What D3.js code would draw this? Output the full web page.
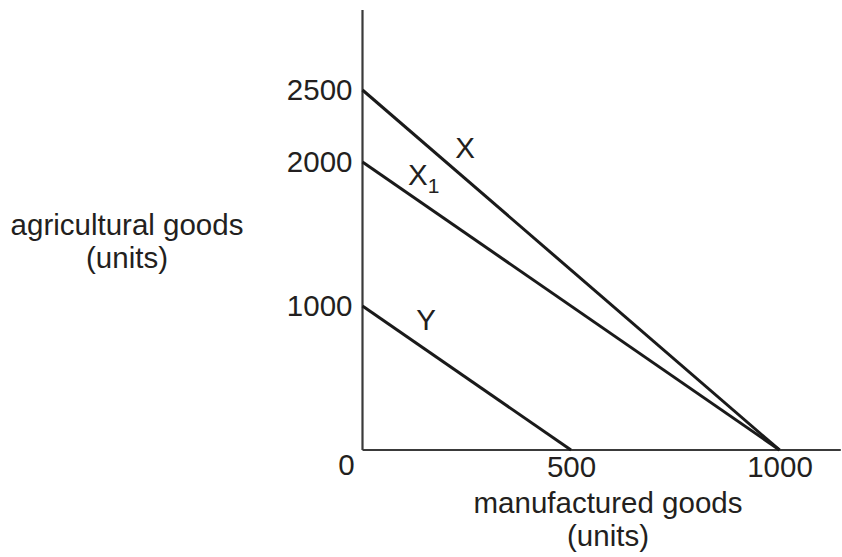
<!DOCTYPE html>
<html><head><meta charset="utf-8">
<script src="https://cdn.jsdelivr.net/npm/d3@7"></script>
<style>body{margin:0;background:#fff}text{font-family:"Liberation Sans",Arial,sans-serif;fill:#231f20}</style>
</head><body>
<svg id="c" width="842" height="557"></svg>
<script>
// data
const lineNames = ["X", "X1", "Y"];
const yIntercepts = [2500, 2000, 1000];   // agricultural goods
const xIntercepts = [1000, 1000, 500];    // manufactured goods
const yTicks = [1000, 2000, 2500];
const xTicks = [500, 1000];
const xAxisMax = 1147, yAxisMax = 3055;

const svg = d3.select("#c");
const x = d3.scaleLinear().domain([0, 1000]).range([362.5, 779.5]);
const y = d3.scaleLinear().domain([0, 2500]).range([450, 90]);
const fs = 29.5;

// axes
const ax = d3.axisBottom(x).tickValues(xTicks).tickSize(0).tickSizeOuter(0).tickPadding(6).tickFormat(d3.format("d"));
const ay = d3.axisLeft(y).tickValues(yTicks).tickSize(0).tickSizeOuter(0).tickPadding(10).tickFormat(d3.format("d"));
const gx = svg.append("g").attr("transform", `translate(0,${y(0)})`).call(ax);
const gy = svg.append("g").attr("transform", `translate(${x(0)},0)`).call(ay);
gx.select(".domain").attr("d", `M${x(0)},0H${x(xAxisMax)}`);
gy.select(".domain").attr("d", `M0,${y(0)}V${y(yAxisMax)}`);
[gx, gy].forEach(g => {
  g.select(".domain").attr("stroke", "#3a3a3a").attr("stroke-width", 2.2);
  g.selectAll("text").attr("font-size", fs).attr("font-family", "Liberation Sans, Arial, sans-serif").attr("fill", "#231f20");
});
// origin label
svg.append("text").attr("x", x(0) - 16).attr("y", y(0) + 25).attr("text-anchor", "middle").attr("font-size", fs).text("0");

// lines
const g = svg.append("g");
lineNames.forEach((n, i) => {
  g.append("line")
    .attr("x1", x(0)).attr("y1", y(yIntercepts[i]))
    .attr("x2", x(xIntercepts[i])).attr("y2", y(0))
    .attr("stroke", "#1a1a1a").attr("stroke-width", 3);
});

// line labels
svg.append("text").attr("x", 465).attr("y", 158).attr("text-anchor", "middle").attr("font-size", fs).text("X");
const t1 = svg.append("text").attr("x", 408).attr("y", 185).attr("font-size", fs);
t1.append("tspan").text("X");
t1.append("tspan").attr("font-size", 21).attr("dy", 8).text("1");
svg.append("text").attr("x", 426).attr("y", 330).attr("text-anchor", "middle").attr("font-size", fs).text("Y");

// axis titles
svg.append("text").attr("x", 127).attr("y", 235).attr("text-anchor", "middle").attr("font-size", fs).text("agricultural goods");
svg.append("text").attr("x", 127).attr("y", 268).attr("text-anchor", "middle").attr("font-size", fs).text("(units)");
svg.append("text").attr("x", 608).attr("y", 513).attr("text-anchor", "middle").attr("font-size", fs).text("manufactured goods");
svg.append("text").attr("x", 608).attr("y", 546).attr("text-anchor", "middle").attr("font-size", fs).text("(units)");
</script>
</body></html>
